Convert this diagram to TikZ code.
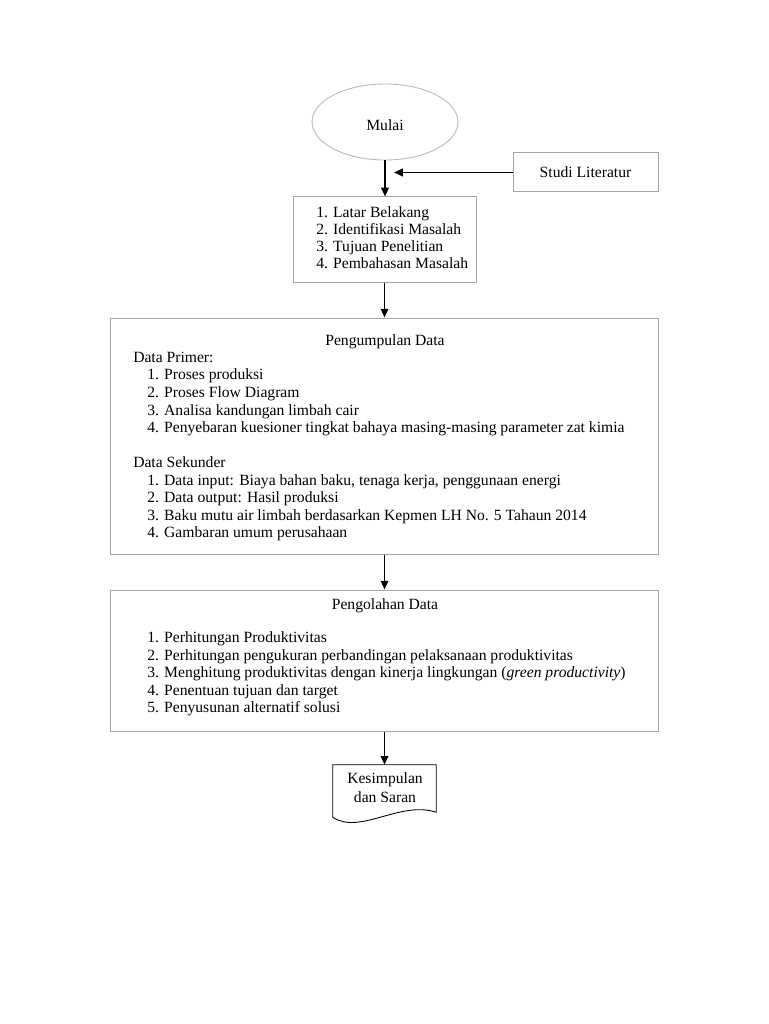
\documentclass[tikz,border=0pt]{standalone}
\usepackage{fontspec}
\setmainfont{Liberation Serif}
\usetikzlibrary{shapes.geometric,arrows.meta,calc}
\definecolor{boxgray}{RGB}{165,165,165}
\definecolor{ellgray}{RGB}{185,185,185}
\begin{document}
\begin{tikzpicture}[x=0.8pt,y=-0.8pt,
  box/.style={draw=boxgray,line width=0.8pt,rectangle,inner sep=0pt},
  txt/.style={inner sep=0pt,font=\fontsize{12.5}{14}\selectfont,text height=9pt,text depth=3pt,anchor=west},
  ctxt/.style={txt,anchor=center},
  conn/.style={line width=1.5pt,-{Triangle[length=7pt,width=6pt]}}]
\useasboundingbox (0,0) rectangle (768,1024);
\fill[white] (0,0) rectangle (768,1024);
% shapes
\node[ellipse,draw=ellgray,line width=0.7pt,minimum width=116.8pt,minimum height=60.8pt,inner sep=0pt] (mulai) at (385,122) {};
\node[ctxt] (mulait) at (385,127) {Mulai};
\node[box,minimum width=116pt,minimum height=31.2pt] (studi) at (585.5,172.5) {};
\node[ctxt] (studit) at (585.5,174) {Studi Literatur};
\node[box,minimum width=146.4pt,minimum height=68pt] (b1) at (384.5,239.5) {};
\node[box,minimum width=438.4pt,minimum height=188.8pt] (b2) at (384,436) {};
\node[box,minimum width=438.4pt,minimum height=112.8pt] (b3) at (384,660.5) {};
\node[rectangle,inner sep=0pt,minimum width=82.4pt,minimum height=37.6pt] (doc) at (384.5,788.5) {};
\draw[draw=black,line width=0.7pt] ($(doc.south west)+(0,5)$) -- (doc.north west) -- (doc.north east) -- (doc.south east)
  .. controls +(-36,-12) and +(27,18) .. ($(doc.south west)+(0,5)$);
% box 1 text
\node[txt] (t11) at (316,214) {1. Latar Belakang};
\node[txt] (t12) at (316,231) {2. Identifikasi Masalah};
\node[txt] (t13) at (316,248) {3. Tujuan Penelitian};
\node[txt] (t14) at (316,265) {4. Pembahasan Masalah};
% box 2 text
\node[ctxt] (t20) at (385,342) {Pengumpulan Data};
\node[txt] (t21) at (133,359) {Data Primer:};
\node[txt] (t22) at (147,376) {1. Proses produksi};
\node[txt] (t23) at (147,394) {2. Proses Flow Diagram};
\node[txt] (t24) at (147,412) {3. Analisa kandungan limbah cair};
\node[txt] (t25) at (147,429) {4. Penyebaran kuesioner tingkat bahaya masing-masing parameter zat kimia};
\node[txt] (t26) at (133,464) {Data Sekunder};
\node[txt] (t27) at (147,482) {1. Data input: Biaya bahan baku, tenaga kerja, penggunaan energi};
\node[txt] (t28) at (147,499) {2. Data output: Hasil produksi};
\node[txt] (t29) at (147,517) {3. Baku mutu air limbah berdasarkan Kepmen LH No. 5 Tahaun 2014};
\node[txt] (t2a) at (147,534) {4. Gambaran umum perusahaan};
% box 3 text
\node[ctxt] (t30) at (385,606) {Pengolahan Data};
\node[txt] (t31) at (147,639) {1. Perhitungan Produktivitas};
\node[txt] (t32) at (147,657) {2. Perhitungan pengukuran perbandingan pelaksanaan produktivitas};
\node[txt] (t33) at (147,674) {3. Menghitung produktivitas dengan kinerja lingkungan (\textit{green productivity})};
\node[txt] (t34) at (147,692) {4. Penentuan tujuan dan target};
\node[txt] (t35) at (147,709) {5. Penyusunan alternatif solusi};
% doc text
\node[ctxt] (t41) at (385,780) {Kesimpulan};
\node[ctxt] (t42) at (385,799) {dan Saran};
% connectors
\coordinate (join) at (394,172.5);
\draw[conn] (mulai.south) -- (mulai.south |- b1.north);
\draw[conn] (studi.west) -- (join);
\draw[conn] (b1.south) -- (b1.south |- b2.north);
\draw[conn] (b2.south -| b1.south) -- (b1.south |- b3.north);
\draw[conn] (b3.south -| b1.south) -- (b1.south |- doc.north);
\end{tikzpicture}
\end{document}
